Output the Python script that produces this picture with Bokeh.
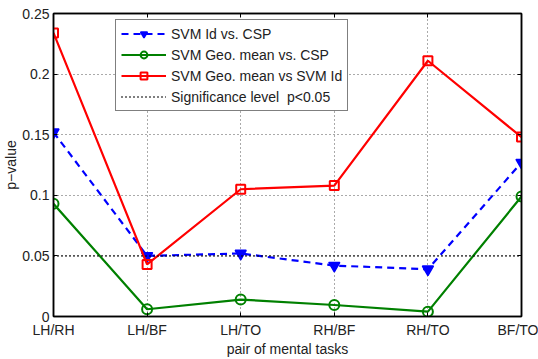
from bokeh.plotting import figure
from bokeh.models import Range1d, FixedTicker, LinearAxis, Legend, LegendItem
from bokeh.embed import file_html
from bokeh.resources import INLINE

tasks = ["LH/RH", "LH/BF", "LH/TO", "RH/BF", "RH/TO", "BF/TO"]
svm_id_vs_csp = [0.152, 0.050, 0.052, 0.042, 0.039, 0.127]
geo_vs_csp = [0.093, 0.006, 0.014, 0.0095, 0.004, 0.099]
geo_vs_svm_id = [0.234, 0.043, 0.105, 0.108, 0.211, 0.148]
significance = 0.05
y_ticks = [0, 0.05, 0.1, 0.15, 0.2, 0.25]
y_tick_labels = ["0", "0.05", "0.1", "0.15", "0.2", "0.25"]
x_title = "pair of mental tasks"
y_title = "p\u2212value"

xs = list(range(1, len(tasks) + 1))
FONT = "Liberation Sans"
FS = "14px"
TXT = "#222222"

p = figure(width=538, height=359, output_backend="svg", toolbar_location=None,
           x_range=Range1d(1, 6), y_range=Range1d(0, 0.25),
           min_border_left=50, min_border_right=17, min_border_top=13, min_border_bottom=39)
p.outline_line_color = "black"
p.outline_line_width = 1.5
p.background_fill_color = "white"

for ax in (p.xaxis[0], p.yaxis[0]):
    ax.major_tick_in = 4
    ax.major_tick_out = 0
    ax.minor_tick_line_color = None
    ax.axis_line_color = "black"
    ax.axis_line_width = 1.5
    ax.major_label_text_font = FONT
    ax.major_label_text_font_size = FS
    ax.major_label_text_color = TXT
    ax.axis_label_text_font = FONT
    ax.axis_label_text_font_size = FS
    ax.axis_label_text_font_style = "normal"
    ax.axis_label_text_color = TXT

p.xaxis.ticker = FixedTicker(ticks=xs)
p.xaxis.major_label_overrides = {x: t for x, t in zip(xs, tasks)}
p.xaxis.axis_label = x_title
p.xaxis.major_label_standoff = 5
p.xaxis.axis_label_standoff = 0
p.yaxis.ticker = FixedTicker(ticks=y_ticks)
p.yaxis.major_label_overrides = {t: l for t, l in zip(y_ticks, y_tick_labels)}
p.yaxis.axis_label = y_title
p.yaxis.major_label_standoff = 4
p.yaxis.axis_label_standoff = 0

for loc, ticks in (("right", y_ticks), ("above", xs)):
    a = LinearAxis(ticker=FixedTicker(ticks=ticks), major_label_text_color=None,
                   major_tick_in=4, major_tick_out=0, minor_tick_line_color=None,
                   axis_line_color="black", axis_line_width=1.5)
    p.add_layout(a, loc)

p.xgrid.ticker = FixedTicker(ticks=xs)
p.ygrid.ticker = FixedTicker(ticks=y_ticks)
for g in (p.xgrid[0], p.ygrid[0]):
    g.grid_line_color = "#555555"
    g.grid_line_dash = "1 3"
    g.grid_line_width = 1

r_blue = p.line(xs, svm_id_vs_csp, line_color="#0000ff", line_width=2.2, line_dash="7 5")
m_blue = p.scatter(xs, svm_id_vs_csp, marker="inverted_triangle", size=11,
                   line_color="#0000ff", fill_color="#0000ff", line_width=1.5)
r_green = p.line(xs, geo_vs_csp, line_color="#008000", line_width=2.2)
m_green = p.scatter(xs, geo_vs_csp, marker="circle", size=10, line_color="#008000",
                    fill_color=None, line_width=2)
r_red = p.line(xs, geo_vs_svm_id, line_color="#ff0000", line_width=2.2)
m_red = p.scatter(xs, geo_vs_svm_id, marker="square", size=9, line_color="#ff0000",
                  fill_color=None, line_width=2)
r_sig = p.line([xs[0], xs[-1]], [significance, significance], line_color="black",
               line_width=2, line_dash="1 3")

legend = Legend(items=[
    LegendItem(label="SVM Id vs. CSP", renderers=[r_blue, m_blue]),
    LegendItem(label="SVM Geo. mean vs. CSP", renderers=[r_green, m_green]),
    LegendItem(label="SVM Geo. mean vs SVM Id", renderers=[r_red, m_red]),
    LegendItem(label="Significance level  p<0.05", renderers=[r_sig]),
], location=(62, 205))
legend.border_line_color = "black"
legend.border_line_width = 1.5
legend.background_fill_alpha = 1
legend.label_text_font = FONT
legend.label_text_font_size = FS
legend.label_text_color = TXT
legend.glyph_width = 45
legend.glyph_height = 17
legend.label_height = 17
legend.spacing = 4
legend.padding = 5
legend.margin = 0
legend.label_standoff = 5
p.add_layout(legend, "center")

open("out.html", "w").write(file_html(p, INLINE))
